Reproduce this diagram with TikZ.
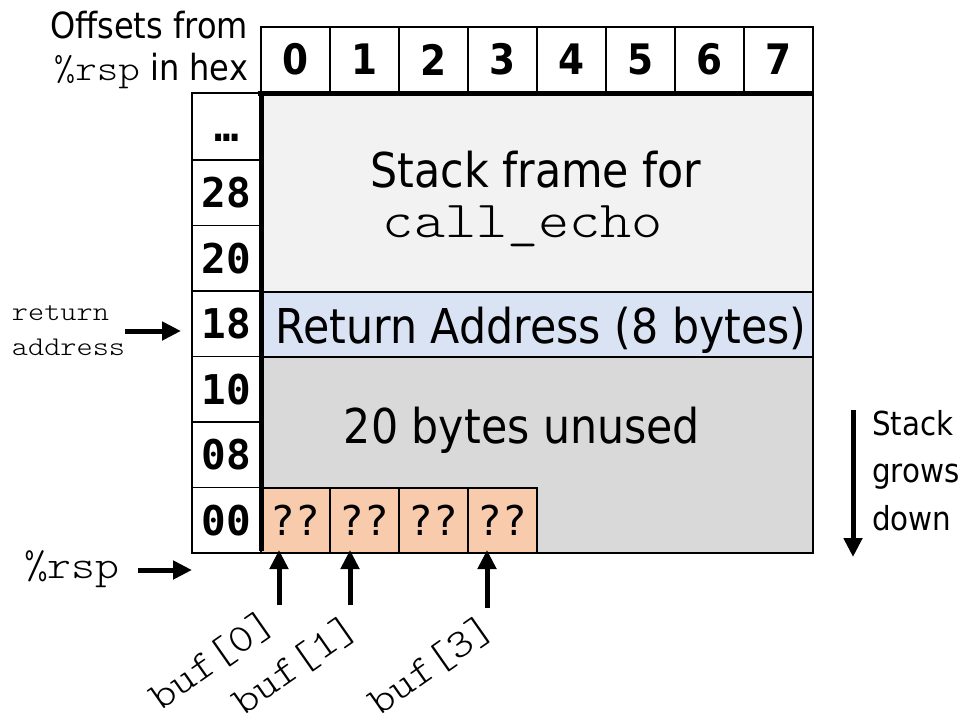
\documentclass[tikz,border=0pt]{standalone}
\usepackage{fontspec}
\setmainfont{DejaVu Sans}[FakeStretch=0.89]
\setmonofont{lmmonolt10-regular.otf}[FakeStretch=1.14]
\newfontfamily\codefont{DejaVu Sans Mono}
\usetikzlibrary{arrows.meta,positioning}
\definecolor{framegray}{HTML}{F2F2F2}
\definecolor{retblue}{HTML}{DAE3F3}
\definecolor{unusedgray}{HTML}{D9D9D9}
\definecolor{bufpeach}{HTML}{F8CBAD}
\newcommand{\sz}[2]{\fontsize{#1}{#2}\selectfont}

\begin{document}
\begin{tikzpicture}[x=1pt, y=-1pt,
  every node/.style={inner sep=0pt, outer sep=0pt},
  cell/.style={draw, line width=1.5pt, minimum width=69pt, minimum height=65.5pt},
  hdrcell/.style={cell, minimum height=65pt, font=\sz{42}{50}\bfseries},
  offcell/.style={cell, text height=30pt, text depth=0pt, font=\codefont\sz{41}{49}\bfseries},
  bytecell/.style={cell, minimum height=65pt, fill=bufpeach, font=\codefont\sz{41}{49}},
  area/.style={draw, line width=1.5pt, minimum width=552pt},
  bigtxt/.style={font=\sz{48}{52}},
  monotxt/.style={font=\ttfamily\sz{#1}{#1}},
  arr/.style={line width=5pt, -{Triangle[length=19pt, width=18pt]}}
]
  \useasboundingbox[fill=white] (0,0) rectangle (979,717);

  % column header
  \node[anchor=north east, align=right, font=\sz{36}{42}] (offlbl) at (248,11)
    {Offsets from\\{\ttfamily\%rsp} in hex};
  \node[hdrcell] (h0) at (295.5,59.5) {0};
  \node[hdrcell, right=0pt of h0] (h1) {1};
  \node[hdrcell, right=0pt of h1] (h2) {2};
  \node[hdrcell, right=0pt of h2] (h3) {3};
  \node[hdrcell, right=0pt of h3] (h4) {4};
  \node[hdrcell, right=0pt of h4] (h5) {5};
  \node[hdrcell, right=0pt of h5] (h6) {6};
  \node[hdrcell, right=0pt of h6] (h7) {7};

  % row offsets
  \node[offcell, minimum height=67pt] (rdots) at (226.5,126.5) {…};
  \node[offcell, below=0pt of rdots] (r28) {28};
  \node[offcell, below=0pt of r28] (r20) {20};
  \node[offcell, below=0pt of r20] (r18) {18};
  \node[offcell, below=0pt of r18] (r10) {10};
  \node[offcell, below=0pt of r10] (r08) {08};
  \node[offcell, below=0pt of r08] (r00) {00};

  % stack contents
  \node[area, fill=framegray, minimum height=199pt] (frame) at (537,192.5) {};
  \node[area, fill=retblue, minimum height=65pt] (ret) at (537,324.5) {};
  \node[area, fill=unusedgray, minimum height=196pt] (unused) at (537,455) {};
  \node[bigtxt, anchor=base] (frametxt) at (536,187) {Stack frame for};
  \node[monotxt=52, anchor=base] (echotxt) at (523,237) {call\_echo};
  \node[bigtxt, anchor=base] (rettxt) at (541,343) {Return Address (8 bytes)};
  \node[bigtxt, anchor=base] (unusedtxt) at (522,443) {20 bytes unused};

  \node[bytecell] (q0) at (295.5,520.5) {??};
  \node[bytecell, right=0pt of q0] (q1) {??};
  \node[bytecell, right=0pt of q1] (q2) {??};
  \node[bytecell, right=0pt of q2] (q3) {??};

  \draw[line width=5pt] ([xshift=-3pt]frame.north west) -- (frame.north east);
  \draw[line width=5pt] ([yshift=-2pt]frame.north west) -- ([yshift=2pt]unused.south west);

  % pointers
  \node[anchor=west, align=left, font=\ttfamily\sz{27}{35}] (retlbl) at (12,331)
    {return\\address};
  \draw[arr, shorten >=11pt] (retlbl.east) -- (retlbl.east -| r18.west);

  \node[monotxt=40, anchor=base west] (rsplbl) at (24,578) {\%rsp};
  \coordinate (rsptail) at (138,570);
  \draw[arr] (rsptail) -- (rsptail -| r00.west);

  \coordinate (b0) at (279,605);
  \coordinate (b1) at (350,605);
  \coordinate (b3) at (487,608);
  \draw[arr, shorten >=-3pt] (b0) -- (b0 |- q0.south);
  \draw[arr, shorten >=-3pt] (b1) -- (b1 |- q1.south);
  \draw[arr, shorten >=-3pt] (b3) -- (b3 |- q3.south);
  \node[monotxt=40, rotate=35] (buf0) at (212,660) {buf[0]};
  \node[monotxt=40, rotate=35] (buf1) at (295,665) {buf[1]};
  \node[monotxt=40, rotate=35] (buf3) at (431,665) {buf[3]};

  % growth direction
  \node[anchor=north west, align=left, font=\sz{33}{47.5}] (growlbl) at (872,410)
    {Stack\\grows\\down};
  \coordinate (growtop) at (853,410);
  \coordinate (growtip) at (853,557);
  \draw[arr] (growtop) -- (growtip);
\end{tikzpicture}
\end{document}
